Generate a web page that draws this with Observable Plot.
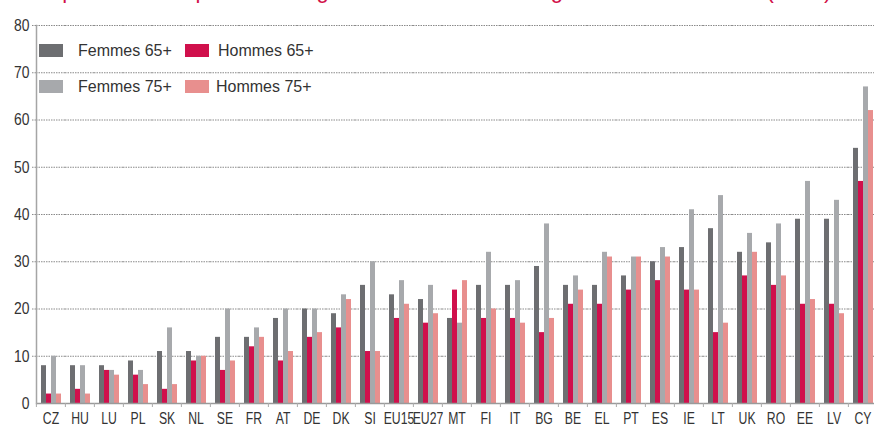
<!DOCTYPE html>
<html>
<head>
<meta charset="utf-8">
<script src="https://cdn.jsdelivr.net/npm/d3@7"></script>
<script src="https://cdn.jsdelivr.net/npm/@observablehq/plot@0.6"></script>
<style>
  html, body { margin: 0; padding: 0; background: #fff; overflow: hidden; }
  #wrap { position: relative; width: 874px; height: 424px; overflow: hidden; }
  #title { position: absolute; left: -21px; top: -20px; font: 22px "Liberation Sans", Arial, sans-serif; line-height: 22px; white-space: nowrap; color: #d2114a; }
  #chart { position: absolute; left: 0; top: 0; }
  #legend { position: absolute; left: 0; top: 0; font: 16px "Liberation Sans", Arial, sans-serif; color: #333; }
  .sw { position: absolute; width: 24px; height: 13px; }
  .lb { position: absolute; line-height: 16px; white-space: nowrap; }
</style>
</head>
<body>
<div id="wrap">
  <div id="title">Taux de pauvreté des personnes âgées selon le sexe et l'âge dans l'UE en 2008 (en %)</div>
  <div id="chart"></div>
  <div id="legend"></div>
</div>
<script>
const categories = ["CZ","HU","LU","PL","SK","NL","SE","FR","AT","DE","DK","SI","EU15","EU27","MT","FI","IT","BG","BE","EL","PT","ES","IE","LT","UK","RO","EE","LV","CY"];
const series = ["Femmes 65+","Hommes 65+","Femmes 75+","Hommes 75+"];
const femmes65 = [8,8,8,9,11,11,14,14,18,20,19,25,23,22,18,25,25,29,25,25,27,30,33,37,32,34,39,39,54];
const hommes65 = [2,3,7,6,3,9,7,12,9,14,16,11,18,17,24,18,18,15,21,21,24,26,24,15,27,25,21,21,47];
const femmes75 = [10,8,7,7,16,10,20,16,20,20,23,30,26,25,17,32,26,38,27,32,31,33,41,44,36,38,47,43,67];
const hommes75 = [2,2,6,4,4,10,9,14,11,15,22,11,21,19,26,20,17,18,24,31,31,31,24,17,32,27,22,19,62];
const yTicks = [0,10,20,30,40,50,60,70,80];
const colors = ["#6d6e71","#d0104c","#a7a9ac","#e88f8e"];

const values = [femmes65, hommes65, femmes75, hommes75];
const data = categories.flatMap((c, i) => series.map((s, j) => ({country: c, series: s, value: values[j][i]})));

const W = 874, H = 424, ML = 33, MR = -6.5;
const step = (W - ML - MR) / categories.length;
const font = "'Liberation Sans', Arial, sans-serif";

const chart = Plot.plot({
  width: W, height: H,
  marginTop: 25, marginBottom: 21, marginLeft: ML, marginRight: MR,
  style: {background: "transparent", color: "#333", fontFamily: font},
  fx: {domain: categories, padding: 0, axis: null, label: null},
  x: {domain: series, paddingInner: 0, paddingOuter: 0.75, axis: null},
  y: {domain: [0, 80], axis: null, label: null},
  color: {domain: series, range: colors},
  marks: [
    Plot.gridY(yTicks.slice(1), {stroke: "#8a8a8a", strokeOpacity: 1, strokeWidth: 1, strokeDasharray: "1.5,1"}),
    Plot.axisY(yTicks.slice(1), {text: null, tickSize: 4, stroke: "#8a8a8a", strokeDasharray: "1.5,1"}),
    Plot.axisY(yTicks, {tickSize: 0, tickPadding: 7, fontSize: 17, label: null}),
    Plot.barY(data, {fx: "country", x: "series", y: "value", fill: "series"}),
    Plot.ruleY([0], {stroke: "#9a9a9a", strokeWidth: 1.5}),
    Plot.frame({anchor: "left", facetAnchor: "left", stroke: "#a5a5a5", strokeWidth: 1.5}),
    Plot.axisFx({anchor: "bottom", text: null, tickSize: 4, stroke: "#aaa", dx: -step / 2}),
    Plot.axisFx({anchor: "bottom", tickSize: 0, tickPadding: 8, fontSize: 17, label: null})
  ]
});
document.getElementById("chart").appendChild(chart);

// condense tick label glyphs horizontally (the reference uses a condensed face)
chart.querySelectorAll("text").forEach(t => {
  const s = t.textContent.trim();
  let k = null, end = false;
  if (categories.includes(s)) k = 0.72;
  else if (/^\d+$/.test(s)) { k = 0.82; end = true; }
  if (k == null) return;
  const b = t.getBBox();
  const cx = end ? b.x + b.width : b.x + b.width / 2;
  const tr = t.getAttribute("transform") || "";
  t.setAttribute("transform", `${tr} translate(${cx},0) scale(${k},1) translate(${-cx},0)`);
});

// legend
const legend = document.getElementById("legend");
const pos = [[39, 44, 78], [185, 44, 218], [39, 80, 78], [185, 80, 216]];
series.forEach((s, i) => {
  const [sx, sy, tx] = pos[i];
  const sw = document.createElement("div");
  sw.className = "sw";
  sw.style.left = sx + "px"; sw.style.top = sy + "px"; sw.style.background = colors[i];
  legend.appendChild(sw);
  const lb = document.createElement("div");
  lb.className = "lb";
  lb.style.left = tx + "px"; lb.style.top = (sy - 1) + "px";
  lb.textContent = s;
  legend.appendChild(lb);
});
</script>
</body>
</html>
